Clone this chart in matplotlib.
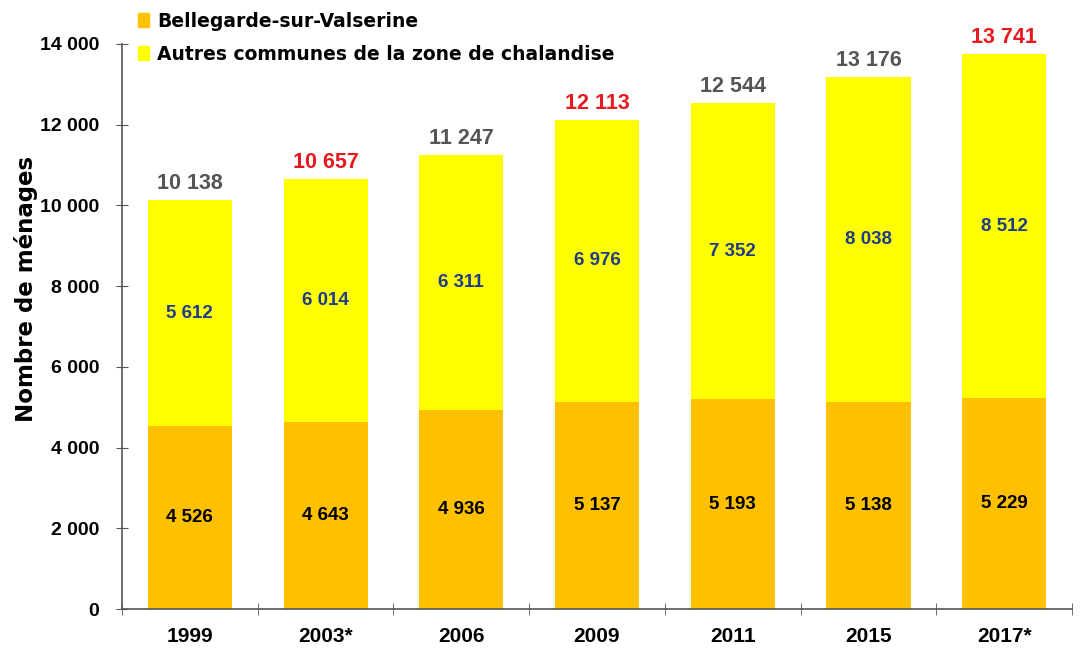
import matplotlib.pyplot as plt
from matplotlib.patches import Patch

years = ["1999", "2003*", "2006", "2009", "2011", "2015", "2017*"]
bellegarde = [4526, 4643, 4936, 5137, 5193, 5138, 5229]
autres = [5612, 6014, 6311, 6976, 7352, 8038, 8512]
totals = [10138, 10657, 11247, 12113, 12544, 13176, 13741]
total_red = [False, True, False, True, False, False, True]

ORANGE = "#FFC000"
YELLOW = "#FFFF00"
BLUE = "#1F3C88"
GRAY = "#555555"
RED = "#E8191E"
FONT = "Liberation Sans"
FONT2 = "DejaVu Sans"

fig = plt.figure(figsize=(10.83, 6.48), dpi=100)
ax = fig.add_axes([122/1083, 1-609/648, (1072-122)/1083, (609-44)/648])

x = list(range(len(years)))
w = 0.62
ax.bar(x, bellegarde, width=w, color=ORANGE, zorder=2)
ax.bar(x, autres, width=w, bottom=bellegarde, color=YELLOW, zorder=2)

def fmt(v):
    return f"{v:,}".replace(",", " ")

for i in x:
    ax.text(i, bellegarde[i]/2, fmt(bellegarde[i]), ha="center", va="center",
            fontsize=13.5, fontweight="bold", color="black", family=FONT)
    ax.text(i, bellegarde[i] + autres[i]/2, fmt(autres[i]), ha="center", va="center",
            fontsize=13.5, fontweight="bold", color=BLUE, family=FONT)
    ax.text(i, totals[i] + 150, fmt(totals[i]), ha="center", va="bottom",
            fontsize=15.5, fontweight="bold",
            color=RED if total_red[i] else GRAY, family=FONT, clip_on=False)

ax.set_xlim(-0.5, len(years) - 0.5)
ax.set_ylim(0, 14000)
ax.set_yticks(range(0, 14001, 2000))
ax.set_yticklabels([fmt(v) for v in range(0, 14001, 2000)],
                   fontsize=14, fontweight="bold", family=FONT)
ax.set_xticks(x)
ax.set_xticklabels(years, fontsize=15, fontweight="bold", family=FONT)
ax.set_xticks([i + 0.5 for i in x[:-1]] + [-0.5, len(years) - 0.5], minor=True)
ax.tick_params(axis="x", which="major", length=0, pad=13)
ax.tick_params(axis="x", which="minor", length=9, direction="inout", color="#555555")
ax.tick_params(axis="y", length=9, direction="inout", color="#555555", pad=12)

for s in ["top", "right"]:
    ax.spines[s].set_visible(False)
for s in ["left", "bottom"]:
    ax.spines[s].set_color("#555555")
    ax.spines[s].set_linewidth(1.2)

ax.set_ylabel("Nombre de ménages", fontsize=16.5, fontweight="bold", family=FONT2)
ax.yaxis.set_label_coords(-0.088, (609-289)/565)

handles = [Patch(color=ORANGE, label="Bellegarde-sur-Valserine"),
           Patch(color=YELLOW, label="Autres communes de la zone de chalandise")]
fig.legend(handles=handles, loc="upper left", bbox_to_anchor=(0.112, 1.008), frameon=False,
           handlelength=0.6, handleheight=0.8, handletextpad=0.4, labelspacing=0.75,
           prop={"family": FONT2, "weight": "bold", "size": 13.5})

fig.savefig("out.png", dpi=100)
